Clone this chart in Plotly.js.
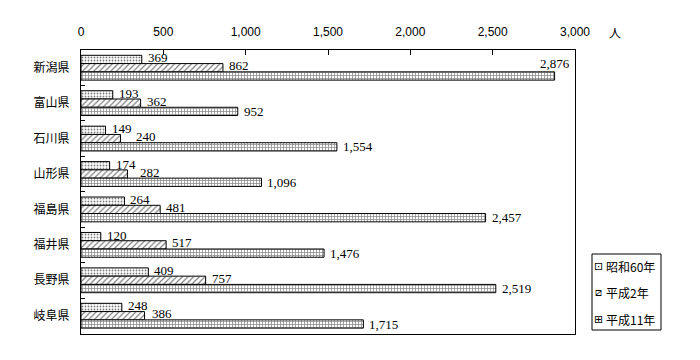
<!DOCTYPE html>
<html>
<head>
<meta charset="utf-8">
<script src="https://cdn.plot.ly/plotly-3.0.1.min.js"></script>
<style>html,body{margin:0;padding:0;background:#fff;}#chart{width:700px;height:360px;}</style>
</head>
<body>
<div id="chart"></div>
<script>
const prefectures = ["新潟県","富山県","石川県","山形県","福島県","福井県","長野県","岐阜県"];
const seriesNames = ["昭和60年","平成2年","平成11年"];
const legendGlyphs = ["⊡","⧄","⊞"];
const showa60 = [369,193,149,174,264,120,409,248];
const heisei2 = [862,362,240,282,481,517,757,386];
const heisei11 = [2876,952,1554,1096,2457,1476,2519,1715];
const xTicks = [0,500,1000,1500,2000,2500,3000];
const xTickLabels = ["0","500","1,000","1,500","2,000","2,500","3,000"];
const unitLabel = "人";

const shapesP = [".","/","+"];
const allValues = [showa60, heisei2, heisei11];
const tickFont = {family:"Liberation Sans, DejaVu Sans", size:12, color:"#000"};
const numFont = {family:"Liberation Serif, DejaVu Serif", size:13, color:"#000"};
const jpFont = {family:"Noto Sans CJK JP", size:12, color:"#000"};

const W = 700, H = 360;
const M = {l:81, r:125, t:50, b:26};
const plotW = W - M.l - M.r, plotH = H - M.t - M.b;
const xMax = 3000;
const ppu = plotW / xMax;
const bargap = 0.3;
const band = plotH / prefectures.length;
const barH = band * (1 - bargap) / 3;

const fmt = v => v.toLocaleString("en-US");
const textW = s => { let w = 0; for (const c of s) w += (c === "," ? 3.25 : 6.5); return w; };

const traces = allValues.map((vals,i)=>({
  type:"bar",
  orientation:"h",
  name: seriesNames[i],
  y: prefectures,
  x: vals,
  showlegend:false,
  marker:{
    color:"#fff",
    line:{color:"#000", width:1},
    pattern:{shape:shapesP[i], fgcolor:"#000", bgcolor:"#fff",
             size: [3,4,3][i], solidity: [0.3,0.3,0.4][i], fillmode:"overlay"}
  }
}));

const annotations = [];
const raise = [1.5, 2, 0];
prefectures.forEach((p, j) => {
  let prevEnd = -Infinity;
  allValues.forEach((vals, i) => {
    const v = vals[j];
    const s = fmt(v);
    const w = textW(s);
    const barEnd = v * ppu;
    let start = barEnd + 5;
    if (i === 1 && start < prevEnd + 5) start = prevEnd + 5;
    const ann = {
      x: v, y: p, xref:"x", yref:"y", text: s, showarrow:false,
      font: numFont, yanchor:"middle", borderpad:0
    };
    let yshift = -(i - 1) * barH + raise[i];
    if (start + w > plotW) {
      ann.xanchor = "right";
      ann.x = xMax;
      ann.xshift = -4;
      yshift += 12.5;
    } else {
      ann.xanchor = "left";
      ann.xshift = start - barEnd;
    }
    ann.yshift = yshift;
    annotations.push(ann);
    if (i === 0) prevEnd = start + w;
  });
});

// unit label
annotations.push({
  text: unitLabel, xref:"paper", yref:"paper", x:(615 - M.l)/plotW, y:1, yshift:18,
  xanchor:"center", yanchor:"middle", showarrow:false, font: jpFont
});

// legend (drawn as text with pattern glyphs)
const legX0 = (592 - M.l)/plotW, legX1 = (661 - M.l)/plotW;
const legY0 = (H - M.b - 330)/plotH, legY1 = (H - M.b - 254)/plotH;
const legRowsY = [266, 292, 319];
seriesNames.forEach((name, i) => {
  const yp = (H - M.b - legRowsY[i]) / plotH;
  annotations.push({
    text: legendGlyphs[i], xref:"paper", yref:"paper", x:(598 - M.l)/plotW, y:yp,
    xanchor:"center", yanchor:"middle", showarrow:false,
    font:{family:"DejaVu Sans", size:11, color:"#000"}
  });
  annotations.push({
    text: name, xref:"paper", yref:"paper", x:(605 - M.l)/plotW, y:yp,
    xanchor:"left", yanchor:"middle", showarrow:false, font: jpFont, borderpad:0
  });
});

const layout = {
  width:W, height:H,
  margin:M,
  paper_bgcolor:"#fff", plot_bgcolor:"#fff",
  barmode:"group",
  bargap:bargap,
  bargroupgap:0,
  showlegend:false,
  xaxis:{
    side:"top", range:[0,xMax], tickvals:xTicks, ticktext:xTickLabels,
    ticks:"inside", ticklen:5, tickcolor:"#000",
    showgrid:false, zeroline:false,
    showline:true, linecolor:"#000", linewidth:1, mirror:true,
    tickfont: tickFont, ticklabelstandoff:8
  },
  yaxis:{
    autorange:"reversed", type:"category",
    ticks:"inside", ticklen:4, tickcolor:"#000", tickson:"boundaries",
    showgrid:false, showline:true, linecolor:"#000", linewidth:1, mirror:true,
    tickfont: jpFont, ticklabelstandoff:8
  },
  shapes:[{
    type:"rect", xref:"paper", yref:"paper", x0:legX0, x1:legX1, y0:legY0, y1:legY1,
    line:{color:"#000", width:1}, fillcolor:"#fff"
  }],
  annotations: annotations
};

Plotly.newPlot("chart", traces, layout, {displayModeBar:false, staticPlot:true});
</script>
</body>
</html>
